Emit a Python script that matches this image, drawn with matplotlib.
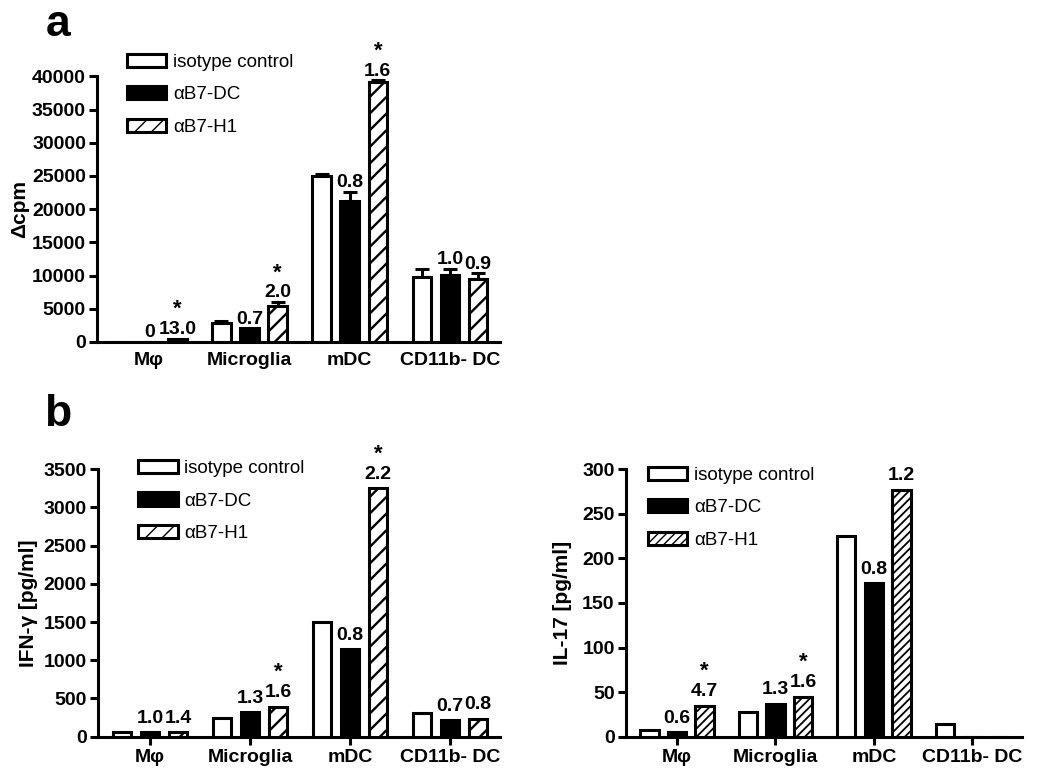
import numpy as np
import matplotlib
matplotlib.use('Agg')
import matplotlib.pyplot as plt

plt.rcParams['font.family'] = ['Liberation Sans', 'DejaVu Sans']
plt.rcParams['hatch.color'] = 'black'

# categorias e series
categorias = ['M\u03c6', 'Microglia', 'mDC', 'CD11b- DC']
series = ['isotype control', '\u03b1B7-DC', '\u03b1B7-H1']

# painel a - proliferacao (delta cpm)
a_iso = [40, 2800, 25000, 9800]
a_dc = [0, 2050, 21300, 10050]
a_h1 = [520, 5450, 39100, 9450]
a_iso_err = [0, 350, 300, 1250]
a_dc_err = [0, 0, 1300, 1000]
a_h1_err = [0, 550, 300, 900]
a_rot_dc = ['0', '0.7', '0.8', '1.0']
a_rot_h1 = ['13.0', '2.0', '1.6', '0.9']
a_sig_h1 = [True, True, True, False]

# painel b - IFN-gamma
ifn_iso = [55, 250, 1505, 315]
ifn_dc = [55, 318, 1143, 214]
ifn_h1 = [60, 393, 3250, 231]
ifn_rot_dc = ['1.0', '1.3', '0.8', '0.7']
ifn_rot_h1 = ['1.4', '1.6', '2.2', '0.8']
ifn_sig_h1 = [False, True, True, False]

# painel b - IL-17
il_iso = [8, 28, 225, 14]
il_dc = [5, 37, 172, 0]
il_h1 = [35, 45, 277, 0]
il_rot_dc = ['0.6', '1.3', '0.8', '']
il_rot_h1 = ['4.7', '1.6', '1.2', '']
il_sig_h1 = [True, True, False, False]


def plotar_barras(ax, iso, dc, h1, rot_dc, rot_h1, sig_h1, ylim, yticks,
                  ylabel, ylabel_x, leg_anchor, erros=None, xticks=True,
                  hatch='//', hatch_lw=2.0, rot_off=4):
    x = np.arange(len(categorias))
    larg = 0.185
    off = 0.28
    lw = 2.2
    tops_dc = np.array(dc, dtype=float)
    tops_h1 = np.array(h1, dtype=float)
    ax.bar(x - off, iso, larg, facecolor='white', edgecolor='black',
           linewidth=lw, label=series[0], zorder=3)
    ax.bar(x, dc, larg, facecolor='black', edgecolor='black',
           linewidth=lw, label=series[1], zorder=3)
    with plt.rc_context({'hatch.linewidth': hatch_lw}):
        barras = ax.bar(x + off, h1, larg, facecolor='white',
                        edgecolor='black', linewidth=lw, hatch=hatch,
                        label=series[2], zorder=3)
    for p in barras:
        if hasattr(p, 'set_hatch_linewidth'):
            p.set_hatch_linewidth(hatch_lw)
    if erros is not None:
        for pos, vals, err in zip([x - off, x, x + off], [iso, dc, h1], erros):
            err = np.array(err, dtype=float)
            m = err > 0
            ax.errorbar(pos[m], np.array(vals)[m],
                        yerr=[np.zeros(m.sum()), err[m]], fmt='none',
                        ecolor='black', elinewidth=2.2, capsize=5,
                        capthick=2.2, zorder=2)
        tops_dc = tops_dc + np.array(erros[1])
        tops_h1 = tops_h1 + np.array(erros[2])

    # rotulos acima das barras
    for i in range(len(categorias)):
        if rot_dc[i]:
            ax.annotate(rot_dc[i], (x[i], tops_dc[i]), xytext=(0, rot_off),
                        textcoords='offset points', ha='center', va='bottom',
                        fontsize=14, fontweight='bold', annotation_clip=False)
        if rot_h1[i]:
            ax.annotate(rot_h1[i], (x[i] + off, tops_h1[i]),
                        xytext=(0, rot_off), textcoords='offset points',
                        ha='center', va='bottom', fontsize=14,
                        fontweight='bold', annotation_clip=False)
        if sig_h1[i]:
            ax.annotate('*', (x[i] + off, tops_h1[i]),
                        xytext=(0, rot_off + 13), textcoords='offset points',
                        ha='center', va='bottom', fontsize=16,
                        fontweight='bold', annotation_clip=False)

    ax.set_xlim(-0.52, 3.5)
    ax.set_ylim(*ylim)
    ax.set_yticks(yticks)
    ax.set_xticks(x)
    ax.set_xticklabels(categorias)
    for s in ['top', 'right']:
        ax.spines[s].set_visible(False)
    for s in ['left', 'bottom']:
        ax.spines[s].set_linewidth(2.2)
    ax.tick_params(axis='y', direction='out', length=6, width=2.2,
                   labelsize=14, pad=2)
    if xticks:
        ax.tick_params(axis='x', direction='out', length=6, width=2.2,
                       labelsize=14, pad=3)
    else:
        ax.tick_params(axis='x', length=0, labelsize=14, pad=7)
    for t in ax.get_xticklabels() + ax.get_yticklabels():
        t.set_fontweight('bold')
    ax.set_ylabel(ylabel, fontsize=15, fontweight='bold')
    ax.yaxis.set_label_coords(ylabel_x, 0.5)
    ax.legend(loc='upper left', bbox_to_anchor=leg_anchor, frameon=False,
              fontsize=13.5, handlelength=2.1, handleheight=0.7,
              handletextpad=0.35, labelspacing=0.82, borderpad=0,
              borderaxespad=0)


fig = plt.figure(figsize=(10.5, 7.79), dpi=100)

ax_a = fig.add_axes([0.0924, 0.561, 0.384, 0.341])
plotar_barras(ax_a, a_iso, a_dc, a_h1, a_rot_dc, a_rot_h1, a_sig_h1,
              (0, 40000), np.arange(0, 40001, 5000), '\u0394cpm', -0.169,
              (0.074, 1.085), erros=[a_iso_err, a_dc_err, a_h1_err],
              xticks=False, hatch='//', hatch_lw=1.7, rot_off=0.5)

ax_b1 = fig.add_axes([0.0933, 0.0543, 0.383, 0.3433])
plotar_barras(ax_b1, ifn_iso, ifn_dc, ifn_h1, ifn_rot_dc, ifn_rot_h1,
              ifn_sig_h1, (0, 3500), np.arange(0, 3501, 500),
              'IFN-\u03b3 [pg/ml]', -0.15, (0.10, 1.035),
              hatch='//', hatch_lw=1.7)

ax_b2 = fig.add_axes([0.596, 0.0543, 0.377, 0.3433])
plotar_barras(ax_b2, il_iso, il_dc, il_h1, il_rot_dc, il_rot_h1, il_sig_h1,
              (0, 300), np.arange(0, 301, 50), 'IL-17 [pg/ml]', -0.136,
              (0.056, 1.01), hatch='////', hatch_lw=1.3)

fig.text(0.055, 0.968, 'a', fontsize=32, fontweight='bold', ha='center',
         va='center')
fig.text(0.055, 0.468, 'b', fontsize=32, fontweight='bold', ha='center',
         va='center')

fig.savefig('out.png', dpi=100)
